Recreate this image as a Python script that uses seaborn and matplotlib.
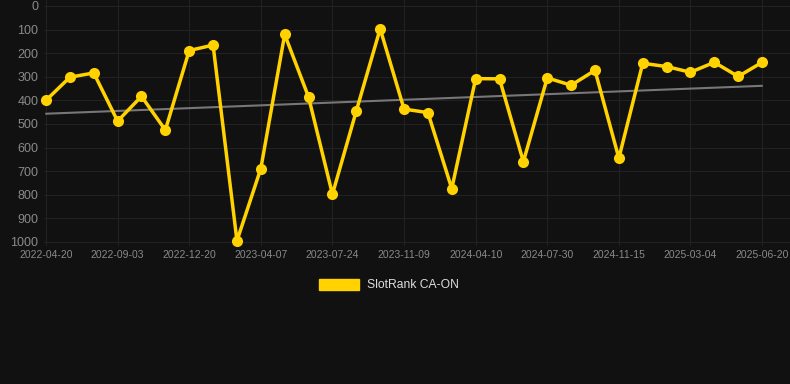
import matplotlib as mpl
mpl.use("Agg")
import matplotlib.pyplot as plt
from matplotlib.patches import Patch
import seaborn as sns
import numpy as np
import pandas as pd

# ranks, one per snapshot (categorical x axis)
ranks = [400, 302, 284, 488, 383, 526, 189, 166, 995, 689,
         121, 386, 798, 445, 97, 437, 452, 774, 308, 309,
         660, 305, 336, 273, 645, 243, 257, 281, 239, 299, 239]
tick_labels = ["2022-04-20", "2022-09-03", "2022-12-20", "2023-04-07",
               "2023-07-24", "2023-11-09", "2024-04-10", "2024-07-30",
               "2024-11-15", "2025-03-04", "2025-06-20"]
y_ticks = [0, 100, 200, 300, 400, 500, 600, 700, 800, 900, 1000]
series_name = "SlotRank CA-ON"

bg = "#111111"
gold = "#FFD200"

df = pd.DataFrame({"idx": np.arange(len(ranks)), "rank": ranks})

sns.set_theme(style="dark")
plt.rcParams["font.family"] = ["Liberation Sans", "DejaVu Sans"]

fig = plt.figure(figsize=(7.9, 3.84), dpi=100, facecolor=bg)
ax = fig.add_axes([44 / 790, 138 / 384, 746 / 790, 246 / 384])
ax.set_facecolor(bg)

# linear trend
sns.regplot(data=df, x="idx", y="rank", scatter=False, ci=None, ax=ax,
            line_kws={"color": "#777777", "lw": 1.5})
sns.lineplot(data=df, x="idx", y="rank", ax=ax, color=gold, lw=2.5,
             marker="o", markersize=8, markeredgewidth=0)
for ln in ax.lines:
    ln.set_clip_on(False)

ax.set_ylim(1017, -25)
ax.set_xlim(-0.084, len(ranks) - 1 + 1.17)
ax.set_yticks(y_ticks)
ax.set_yticklabels([str(v) for v in y_ticks], fontsize=9, color="#8a8a8a")
ax.set_xticks(np.arange(0, len(ranks), 3))
ax.set_xticklabels(tick_labels, fontsize=7.5, color="#8a8a8a")
ax.tick_params(axis="both", length=0, pad=3)
ax.tick_params(axis="y", pad=4)
ax.grid(True, color="#222222", lw=0.8)
ax.set_xlabel("")
ax.set_ylabel("")
for s in ax.spines.values():
    s.set_visible(False)

fig.legend(handles=[Patch(color=gold, label=series_name)],
           loc="center", bbox_to_anchor=(389 / 790, 1 - 285 / 384),
           frameon=False, fontsize=8.7, labelcolor="#dddddd",
           handlelength=3.3, handleheight=1.0, handletextpad=0.6)

fig.savefig("out.png", dpi=100, facecolor=bg)
